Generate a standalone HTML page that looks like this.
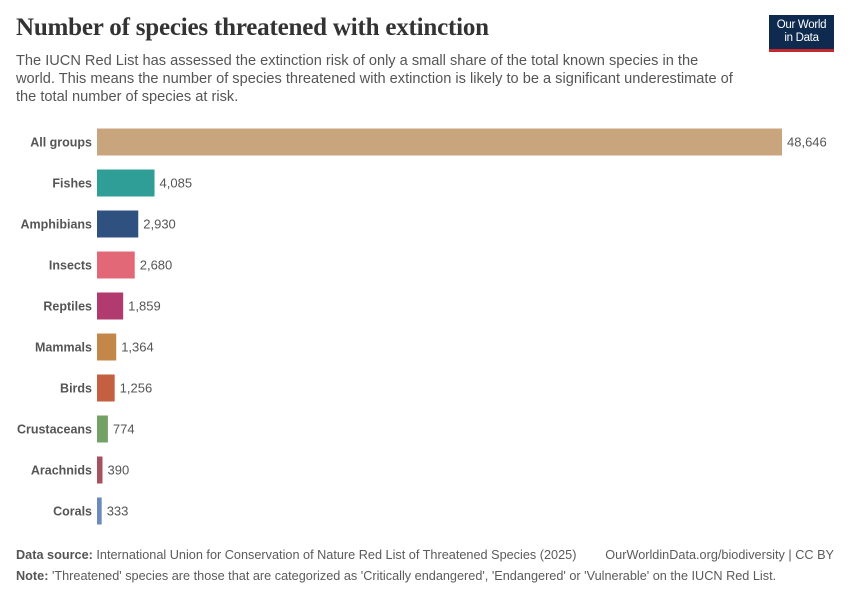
<!DOCTYPE html>
<html><head><meta charset="utf-8"><style>
body{margin:0;width:850px;height:600px;background:#fff;font-family:"Liberation Sans",sans-serif;position:relative;overflow:hidden}
.t{position:absolute;margin:0}
#title{left:16px;top:14px;font-family:"Liberation Serif",serif;font-size:25px;color:#333;font-weight:bold;letter-spacing:-0.2px}
#sub{left:16px;top:52px;font-size:14.6px;line-height:18px;color:#555;width:725px}
#logo{left:769px;top:15px;width:65px;height:37px;background:#0f2a4f;border-bottom:3px solid #c4272d;color:#fff;font-size:11.5px;line-height:13px;text-align:center;padding-top:4px;box-sizing:border-box;letter-spacing:-0.3px}
.foot{left:16px;font-size:12.7px;color:#5b5b5b}
.foot b{color:#555}
</style></head><body>
<h1 class="t" id="title">Number of species threatened with extinction</h1>
<p class="t" id="sub">The IUCN Red List has assessed the extinction risk of only a small share of the total known species in the world. This means the number of species threatened with extinction is likely to be a significant underestimate of the total number of species at risk.</p>
<div class="t" id="logo">Our World<br>in Data</div>
<svg id="chart" width="850" height="600" style="position:absolute;left:0;top:0"></svg>
<div class="t foot" style="top:548px"><b>Data source:</b> International Union for Conservation of Nature Red List of Threatened Species (2025)</div>
<div class="t foot" style="top:548px;left:auto;right:16px">OurWorldinData.org/biodiversity | CC BY</div>
<div class="t foot" style="top:569px"><b>Note:</b> 'Threatened' species are those that are categorized as 'Critically endangered', 'Endangered' or 'Vulnerable' on the IUCN Red List.</div>
<script>
const categories=["All groups","Fishes","Amphibians","Insects","Reptiles","Mammals","Birds","Crustaceans","Arachnids","Corals"];
const values=[48646,4085,2930,2680,1859,1364,1256,774,390,333];
const colors=["#c8a57c","#2e9e96","#2f5180","#e26878","#b13a6e","#c4874a","#c4603f","#74a266","#a8515e","#6c8bbd"];
const svg=document.getElementById('chart');
const NS="http://www.w3.org/2000/svg";
const x0=97,x1=782,maxV=48646;
const xs=v=>x0+(v/maxV)*(x1-x0);
const ys=i=>142+i*41;
const bh=27;
categories.forEach((c,i)=>{
  const y=ys(i);
  const r=document.createElementNS(NS,'rect');
  r.setAttribute('x',x0);r.setAttribute('y',y-bh/2);
  r.setAttribute('width',xs(values[i])-x0);r.setAttribute('height',bh);
  r.setAttribute('fill',colors[i]);
  
  
  svg.appendChild(r);
  const l=document.createElementNS(NS,'text');
  l.setAttribute('x',92);l.setAttribute('y',y+4.5);l.setAttribute('text-anchor','end');
  l.setAttribute('font-size','12.5');l.setAttribute('font-weight','bold');l.setAttribute('fill','#555');
  l.textContent=c;
  
  
  svg.appendChild(l);
  const v=document.createElementNS(NS,'text');
  v.setAttribute('x',xs(values[i])+5);v.setAttribute('y',y+4.5);
  v.setAttribute('font-size','13');v.setAttribute('fill','#555');
  v.textContent=values[i].toLocaleString('en-US');
  
  
  svg.appendChild(v);
});
</script>
</body></html>
